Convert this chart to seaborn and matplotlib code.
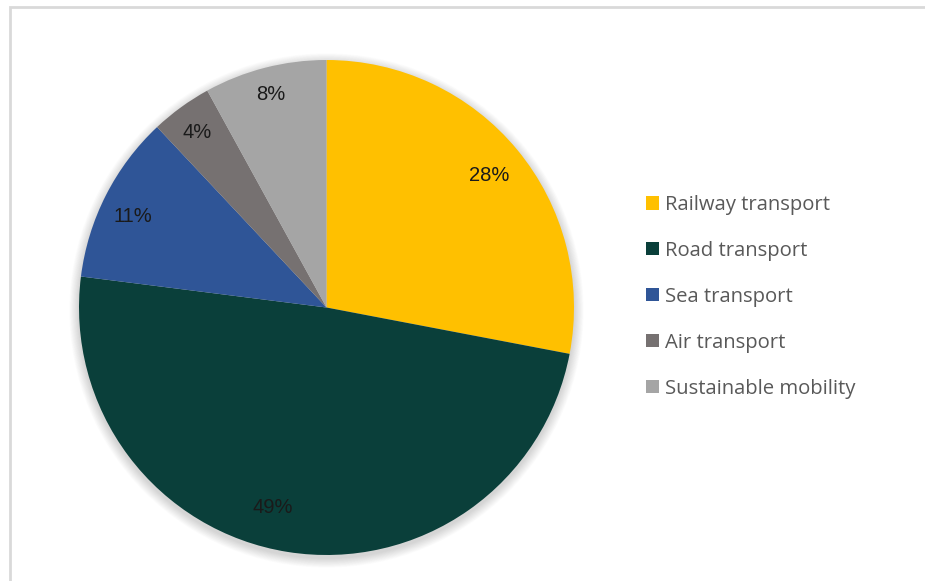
import matplotlib
matplotlib.use("Agg")
import matplotlib.pyplot as plt
from matplotlib.patches import Circle, Rectangle, Patch
import seaborn as sns

# Share of investment by transport mode
categories = ["Railway transport", "Road transport", "Sea transport",
              "Air transport", "Sustainable mobility"]
shares = [28, 49, 11, 4, 8]
colors = ["#FFC000", "#0A3F3A", "#2F5597", "#767171", "#A5A5A5"]

# where each percentage label sits, in units of the pie radius
label_xy = [(0.659, 0.533), (-0.216, -0.808), (-0.782, 0.366),
            (-0.523, 0.709), (-0.224, 0.859)]

sns.set_theme(style="white")
plt.rcParams["font.family"] = ["Liberation Sans", "DejaVu Sans"]

W, H = 925, 581
fig = plt.figure(figsize=(W / 100, H / 100), dpi=100)
fig.patch.set_facecolor("white")

# light frame around the chart area
fig.add_artist(Rectangle((10 / W, -0.05), 1.1, 1 - 7 / H + 0.05,
                         transform=fig.transFigure, fill=False,
                         edgecolor="#D9D9D9", linewidth=2))

cx, cy, r = 326.5, 307.5, 247.5
ax = fig.add_axes([(cx - r) / W, (H - cy - r) / H, 2 * r / W, 2 * r / H])

# soft drop shadow under the pie
for i in range(14):
    rad = 1.0 + 0.0028 * (14 - i)
    ax.add_patch(Circle((0.0, -0.012), rad, color="black", alpha=0.012,
                        lw=0, zorder=0, clip_on=False))

wedges, texts, autotexts = ax.pie(
    shares, colors=colors, startangle=90, counterclock=False,
    autopct=lambda p: f"{p:.0f}%", pctdistance=0.84, radius=1.0,
    wedgeprops=dict(linewidth=0),
    textprops=dict(fontsize=14.5, color="#1A1A1A"))
for w in wedges:
    w.set_zorder(2)
for t, xy in zip(autotexts, label_xy):
    t.set_position(xy)
    t.set_zorder(3)

ax.set_xlim(-1, 1)
ax.set_ylim(-1, 1)
ax.set_aspect("equal")
ax.axis("off")

handles = [Patch(facecolor=c, edgecolor="none") for c in colors]
leg = fig.legend(handles, categories, loc="center left",
                 bbox_to_anchor=(628 / W, 1 - 297 / H),
                 frameon=False, labelcolor="#595959",
                 handlelength=0.62, handleheight=0.62, handletextpad=0.3,
                 labelspacing=1.28, prop=dict(family="Open Sans", size=14.6))

fig.savefig("out.png", dpi=100, facecolor="white")
